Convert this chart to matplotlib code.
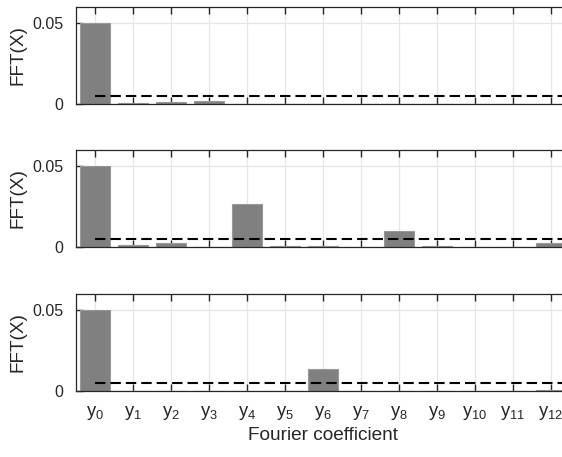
import numpy as np
import matplotlib.pyplot as plt

plt.rcParams['font.family'] = ['Liberation Sans', 'DejaVu Sans']
plt.rcParams['mathtext.fontset'] = 'custom'
plt.rcParams['mathtext.rm'] = 'Liberation Sans'

# data
coef = np.arange(13)
labels = [r'$\mathregular{y_{%d}}$' % i for i in coef]
fft_a = [0.050, 0.0005, 0.001, 0.002, 0.0001, 0.0001, 0.0001, 0.0001, 0.0001, 0.0001, 0.0001, 0.0001, 0.0001]
fft_b = [0.050, 0.0012, 0.0024, 0.0002, 0.0265, 0.0005, 0.0005, 0.0001, 0.0100, 0.0005, 0.0001, 0.0001, 0.0027]
fft_c = [0.050, 0.0002, 0.0002, 0.0002, 0.0002, 0.0002, 0.0136, 0.0002, 0.0002, 0.0002, 0.0002, 0.0002, 0.0007]
threshold = 0.0047

fig = plt.figure(figsize=(5.62, 4.57), dpi=100)
W, H = 562, 457
tops = [7, 150, 294]
for k, (top, vals) in enumerate(zip(tops, [fft_a, fft_b, fft_c])):
    ax = fig.add_axes([76 / W, 1 - (top + 97) / H, (570 - 76) / W, 97 / H])
    ax.bar(coef, vals, width=0.77, color='#808080', edgecolor='#999999', linewidth=0.8, zorder=2)
    ax.plot([0, 13], [threshold, threshold], '--', color='k', lw=1.5, dashes=(5, 2.4), zorder=3)
    ax.set_xlim(-0.5, 12.5)
    ax.set_ylim(0, 0.06)
    ax.set_yticks([0, 0.05])
    ax.set_yticklabels(['0', '0.05'])
    ax.set_xticks(coef)
    if k == 2:
        ax.set_xticklabels(labels)
        ax.set_xlabel('Fourier coefficient', fontsize=13.7, color='#262626', labelpad=4)
    else:
        ax.set_xticklabels([])
    ax.set_ylabel('FFT(X)', fontsize=13.7, color='#262626', labelpad=4)
    ax.grid(True, color='#e6e6e6', lw=0.9, zorder=0)
    ax.set_axisbelow(True)
    ax.tick_params(direction='in', top=True, bottom=True, length=5, width=1.0,
                   color='#262626', labelcolor='#262626', labelsize=11.5)
    ax.tick_params(axis='x', labelsize=13.2, pad=9)
    ax.tick_params(axis='y', left=True, right=False, pad=9)
    for s in ax.spines.values():
        s.set_color('#262626')
        s.set_linewidth(0.9)

fig.savefig('out.png', dpi=100)
